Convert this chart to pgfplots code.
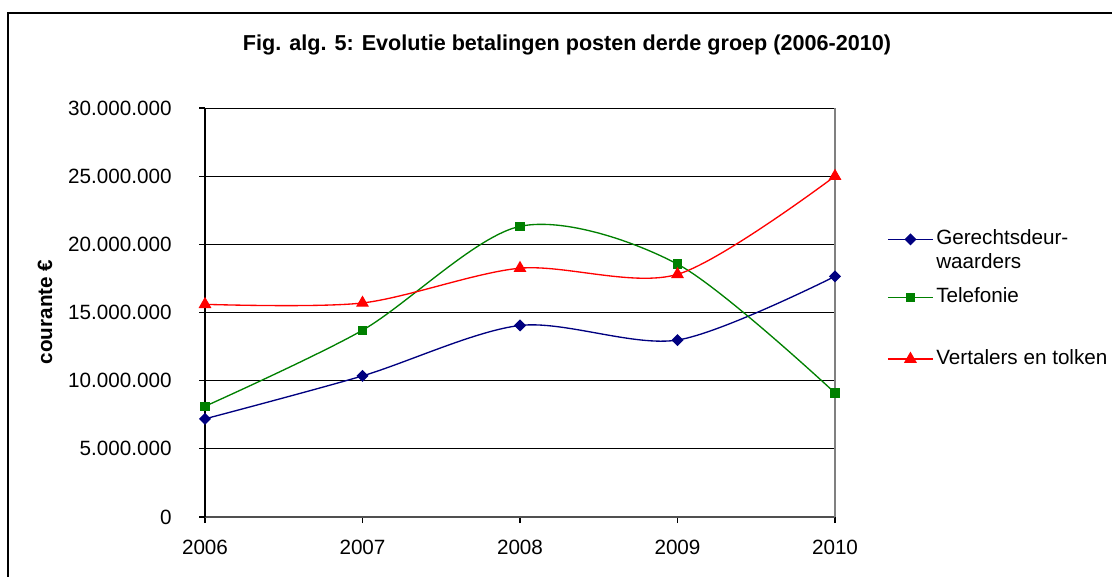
\documentclass[border=0pt]{standalone}
\usepackage{pgfplots}
\pgfplotsset{compat=1.18}
\usepackage{fontspec}
\setmainfont{Liberation Sans}
\definecolor{cnavy}{RGB}{0,0,128}
\definecolor{cgreen}{RGB}{0,128,0}
\definecolor{cred}{RGB}{255,0,0}
\begin{document}
\begin{tikzpicture}
\begin{scope}[x=0.75pt,y=0.75pt]
\useasboundingbox (0,0) rectangle (1112,-576);
\draw[line width=0.9pt] (8,-700) -- (8,-13) -- (1300,-13);
\node[font=\bfseries\fontsize{16.2pt}{19pt}\selectfont] at (567,-45) {Fig. alg. 5: Evolutie betalingen posten derde groep (2006-2010)};
\node[font=\bfseries\fontsize{15.5pt}{18pt}\selectfont, rotate=90] at (45,-312) {courante €};
\end{scope}
\begin{axis}[
  at={(153.75pt,-387.75pt)}, anchor=south west,
  scale only axis, width=472.5pt, height=306.75pt,
  xmin=2006, xmax=2010, ymin=0, ymax=30000000,
  xtick={2006,2007,2008,2009,2010},
  ytick={0,5000000,10000000,15000000,20000000,25000000,30000000},
  axis x line*=bottom, axis y line*=left,
  x axis line style={draw={rgb,255:red,80;green,80;blue,80}, line width=1pt},
  y axis line style={black, line width=1pt},
  tick align=outside, major tick length=4.5pt,
  tick style={black, line width=0.8pt},
  ymajorgrids, major grid style={black, line width=0.7pt},
  extra x ticks={2010}, extra x tick labels={},
  extra x tick style={xmajorgrids=true, major grid style={gray, line width=1.2pt}, major tick length=0pt},
  scaled y ticks=false,
  /pgf/number format/assume math mode=true,
  yticklabel style={/tikz/xshift=-17pt, /pgf/number format/fixed, /pgf/number format/precision=0, /pgf/number format/1000 sep={.}},
  xticklabel style={/tikz/yshift=-9pt, /pgf/number format/1000 sep={}},
  tick label style={font=\fontsize{15.5pt}{18pt}\selectfont, black},
  legend style={draw=none, fill=none, at={(1.0825,0.703)}, anchor=north west, inner sep=0pt,
    row sep=14pt,
    nodes={inner xsep=2pt, inner ysep=0pt, text depth={}, font=\fontsize{15.5pt}{18pt}\selectfont},
    cells={anchor=base west}},
  legend image code/.code={\draw[mark repeat=2,mark phase=2,#1] plot coordinates {(0pt,4pt) (16.9pt,4pt) (33.75pt,4pt)};},
]
\addplot[cnavy, line width=1pt, smooth, tension=0.5, mark=square*, mark size=2.7pt, mark options={rotate=45, fill=cnavy}]
  coordinates {(2006,7200000) (2007,10350000) (2008,14050000) (2009,12980000) (2010,17650000)};
\addlegendentry{\vtop{\hbox{Gerechtsdeur-}\hbox{waarders}}}
\addplot[cgreen, line width=1pt, smooth, tension=0.5, mark=square*, mark size=3pt, mark options={fill=cgreen}]
  coordinates {(2006,8120000) (2007,13700000) (2008,21320000) (2009,18550000) (2010,9100000)};
\addlegendentry{\vtop{\hbox{Telefonie}\vskip21pt}}
\addplot[cred, line width=1pt, smooth, tension=0.5, mark=triangle*, mark size=4.6pt, mark options={fill=cred}]
  coordinates {(2006,15600000) (2007,15700000) (2008,18250000) (2009,17800000) (2010,25000000)};
\addlegendentry{Vertalers en tolken}
\end{axis}
\end{tikzpicture}
\end{document}
